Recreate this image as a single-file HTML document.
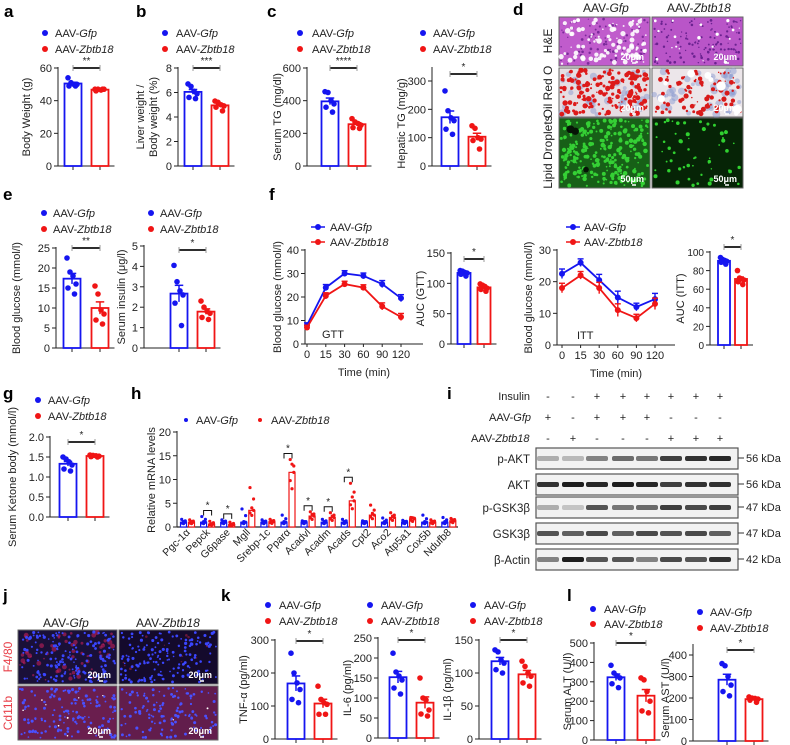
<!DOCTYPE html>
<html><head><meta charset="utf-8"><style>
html,body{margin:0;padding:0;background:#fff;}
svg{display:block;font-family:"Liberation Sans",sans-serif;}
</style></head><body>
<svg id="fig" width="790" height="745" viewBox="0 0 790 745"></svg>
<script>
// ---------- DATA ----------
const groups=['AAV-Gfp','AAV-Zbtb18'];
const bwGfp=[54,51,50,50,49,49], bwZb=[47,47,46.5,47,46,47];
const lwGfp=[6.7,6.5,6.1,5.9,5.6,5.5], lwZb=[5.3,5.2,5.0,4.9,4.8,4.5];
const stgGfp=[455,450,400,380,360,330], stgZb=[290,270,260,250,235,230];
const htgGfp=[265,195,170,160,130,112], htgZb=[142,133,100,95,90,60];
const bgGfp=[22.5,19,18,16,15,13.5], bgZb=[15.5,13.5,9.5,8.5,7,6];
const insGfp=[4.05,3.25,2.8,2.6,2.2,1.1], insZb=[2.3,2.0,1.8,1.7,1.5,1.4];
const aucGttGfp=[121,120,118,117,115,112], aucGttZb=[99,97,95,92,90,87];
const aucIttGfp=[94,92,91,90,89,87], aucIttZb=[80,72,71,70,68,65];
const ketGfp=[1.5,1.45,1.38,1.3,1.2,1.15], ketZb=[1.55,1.54,1.53,1.52,1.51,1.5];
const tnfGfp=[260,200,170,150,120,110], tnfZb=[160,120,110,105,75,75];
const il6Gfp=[212,165,155,145,125,110], il6Zb=[150,100,95,70,60,55];
const il1Gfp=[135,132,120,115,105,100], il1Zb=[118,110,100,95,85,80];
const altGfp=[385,345,330,320,290,270], altZb=[320,310,250,200,150,140];
const astGfp=[360,350,300,260,230,210], astZb=[205,200,198,195,190,180];
const timeLabels=['0','15','30','60','90','120'];
const gttGfp=[8,24,30,29,25.5,19.5], gttZb=[7,20.5,25.5,24,16,11.5];
const gttErr=[1,1.3,1.2,1.2,1.5,1.5];
const ittGfp=[22.5,26,20.5,15,12,14.5], ittZb=[18,22,18,11,8.5,13];
const ittErr=[1.5,1.2,1.8,2,1.2,1.8];
const genes=['Pgc-1α','Pepck','G6pase','Mgll','Srebp-1c','Pparα','Acadvl','Acadm','Acads','Cpt2','Aco2','Atp5a1','Cox5b','Ndufb8'];
const mrnaGfp=[1,1,1,1,1,1,1,1,1,1,1,1,1,1];
const mrnaZb=[1,0.6,0.5,3.5,1.1,11.5,2.3,2.0,5.5,2.5,2.0,1.7,1.0,1.3];
const mrnaMax=[1.6,2.2,1.5,3.8,1.5,2.5,1.3,1.6,1.6,1.3,1.9,1.4,2.5,2.0];
const mrnaZbMax=[1.5,1.2,1.0,8.3,1.6,14.2,3.2,3.0,9.2,4.6,3.0,2.0,1.5,1.8];
const mrnaSig=[1,2,5,6,7,8];
const blotRows=['p-AKT','AKT','p-GSK3β','GSK3β','β-Actin'];
const blotKda=['56 kDa','56 kDa','47 kDa','47 kDa','42 kDa'];
const insulinSigns=['-','-','+','+','+','+','+','+'];
const gfpSigns=['+','-','+','+','+','-','-','-'];
const zbSigns=['-','+','-','-','-','+','+','+'];
const bandPAKT=[0.3,0.25,0.5,0.6,0.55,0.8,0.85,0.9];
const bandAKT=[0.85,0.95,0.9,0.95,0.9,0.8,0.85,0.85];
const bandPGSK=[0.3,0.2,0.7,0.55,0.6,0.8,0.75,0.8];
const bandGSK=[0.7,0.65,0.75,0.65,0.75,0.7,0.75,0.65];
const bandActin=[0.5,0.95,0.7,0.7,0.5,0.75,0.7,0.85];

// ---------- HELPERS ----------
const NS='http://www.w3.org/2000/svg';
const svg=document.getElementById('fig');
const BLUE='#1515f0', RED='#f01515';
function mk(tag,attrs,name,parent){
  const el=document.createElementNS(NS,tag);
  for(const k in attrs) el.setAttribute(k,attrs[k]);
  
  
  (parent||svg).appendChild(el);
  return el;
}
function txt(x,y,s,opts,name,parent){
  const t=mk('text',Object.assign({x:x,y:y,'font-size':11,fill:'#222'},opts||{}),name,parent);
  t.textContent=s; return t;
}
function legendText(x,y,base,ital,name,parent,fs){
  const t=mk('text',{x:x,y:y,'font-size':fs||11,fill:'#222'},name,parent);
  const a=document.createElementNS(NS,'tspan'); a.textContent=base; t.appendChild(a);
  const b=document.createElementNS(NS,'tspan'); b.setAttribute('font-style','italic'); b.textContent=ital; t.appendChild(b);
  return t;
}
function legend(dx,tx,y1,y2,line){
  const g=mk('g',{},'legend');
  if(line){
    mk('line',{x1:dx-7,x2:dx+7,y1:y1,y2:y1,stroke:BLUE,'stroke-width':1.5},'legend-line-gfp',g);
    mk('line',{x1:dx-7,x2:dx+7,y1:y2,y2:y2,stroke:RED,'stroke-width':1.5},'legend-line-zbtb18',g);
  }
  mk('circle',{cx:dx,cy:y1,r:3,fill:BLUE},'legend-marker-gfp',g);
  mk('circle',{cx:dx,cy:y2,r:3,fill:RED},'legend-marker-zbtb18',g);
  legendText(tx,y1+4,'AAV-','Gfp','legend-entry-gfp',g);
  legendText(tx,y2+4,'AAV-','Zbtb18','legend-entry-zbtb18',g);
}
function letter(x,y,s){ txt(x,y,s,{'font-size':17,'font-weight':'bold',fill:'#000'},'panel-label-'+s); }
function ylabel(x,y,s,parent){
  txt(x,y,s,{'text-anchor':'middle',transform:'rotate(-90 '+x+' '+y+')'},'y-axis-title',parent);
}
const mean=a=>a.reduce((s,v)=>s+v,0)/a.length;
const sem=a=>{const m=mean(a);return Math.sqrt(a.reduce((s,v)=>s+(v-m)*(v-m),0)/(a.length-1))/Math.sqrt(a.length);};
const jit=[-5,-2,1,4,-4,2.5];

function barChart(c,gfp,zb,id){
  const g=mk('g',{},id+'-chart');
  const y=v=>c.y0-(v/c.max)*(c.y0-c.yTop);
  const w=c.w||17;
  mk('line',{x1:c.ax,y1:c.y0,x2:c.ax,y2:(c.axTop||c.yTop)-1,stroke:'#222'},id+'-y-axis',g);
  c.ticks.forEach(t=>{
    mk('line',{x1:c.ax-4,x2:c.ax,y1:y(t),y2:y(t),stroke:'#222'},id+'-y-tick',g);
    txt(c.ax-6,y(t)+4,c.fmt?t.toFixed(1):String(t),{'text-anchor':'end','font-size':c.fs||11},id+'-y-tick-label',g);
  });
  const xEnd=c.bx[1]+w/2+6;
  mk('line',{x1:c.ax,x2:xEnd,y1:c.y0,y2:c.y0,stroke:'#222'},id+'-x-axis',g);
  [gfp,zb].forEach((arr,i)=>{
    const col=i?RED:BLUE, cx=c.bx[i], m=mean(arr), e=sem(arr);
    mk('line',{x1:cx,x2:cx,y1:c.y0,y2:c.y0+4,stroke:'#222'},id+'-x-tick',g);
    mk('rect',{x:cx-w/2,y:y(m),width:w,height:c.y0-y(m),fill:'#fff',stroke:col,'stroke-width':1.8},id+'-bar-'+(i?'zbtb18':'gfp'),g);
    mk('line',{x1:cx,x2:cx,y1:y(m-e),y2:y(m+e),stroke:col,'stroke-width':1.5},id+'-error-bar',g);
    mk('line',{x1:cx-w/4,x2:cx+w/4,y1:y(m+e),y2:y(m+e),stroke:col,'stroke-width':1.5},id+'-error-cap',g);
    arr.forEach((v,k)=>mk('circle',{cx:cx+jit[k]*w/17,cy:y(v),r:2.8,fill:col},id+'-point',g));
  });
  const sy=c.sigY;
  mk('line',{x1:c.bx[0],x2:c.bx[1],y1:sy,y2:sy,stroke:'#111','stroke-width':1.8},id+'-significance-bar',g);
  [c.bx[0],c.bx[1]].forEach(x=>mk('line',{x1:x,x2:x,y1:sy-3,y2:sy+3,stroke:'#999'},id+'-significance-cap',g));
  txt((c.bx[0]+c.bx[1])/2,sy-4,c.star||'*',{'text-anchor':'middle','font-size':10},id+'-significance-star',g);
  if(c.label2){ylabel(c.lx-6,(c.y0+c.yTop)/2,c.label,g);ylabel(c.lx+7,(c.y0+c.yTop)/2,c.label2,g);}
  else ylabel(c.lx,(c.y0+c.yTop)/2,c.label,g);
}

function lineChart(c,gfp,zb,err,id){
  const g=mk('g',{},id+'-chart');
  const y=v=>c.y0-(v/c.max)*(c.y0-c.yTop);
  const x=i=>c.x0+i*c.dx;
  mk('line',{x1:c.ax,y1:c.y0,x2:c.ax,y2:c.yTop-1,stroke:'#222'},id+'-y-axis',g);
  c.ticks.forEach(t=>{
    mk('line',{x1:c.ax-4,x2:c.ax,y1:y(t),y2:y(t),stroke:'#222'},id+'-y-tick',g);
    txt(c.ax-6,y(t)+4,String(t),{'text-anchor':'end'},id+'-y-tick-label',g);
  });
  mk('line',{x1:c.ax,x2:c.xEnd,y1:c.y0,y2:c.y0,stroke:'#222'},id+'-x-axis',g);
  timeLabels.forEach((l,i)=>{
    mk('line',{x1:x(i),x2:x(i),y1:c.y0,y2:c.y0+3,stroke:'#222'},id+'-x-tick',g);
    txt(x(i),c.y0+14,l,{'text-anchor':'middle'},id+'-x-tick-label',g);
  });
  [gfp,zb].forEach((arr,s)=>{
    const col=s?RED:BLUE;
    mk('polyline',{points:arr.map((v,i)=>x(i)+','+y(v)).join(' '),fill:'none',stroke:col,'stroke-width':1.8},id+'-line-'+(s?'zbtb18':'gfp'),g);
    arr.forEach((v,i)=>{
      mk('line',{x1:x(i),x2:x(i),y1:y(v-err[i]),y2:y(v+err[i]),stroke:col,'stroke-width':1.4},id+'-error-bar',g);
      mk('line',{x1:x(i)-3,x2:x(i)+3,y1:y(v+err[i]),y2:y(v+err[i]),stroke:col,'stroke-width':1.4},id+'-error-cap',g);
      mk('circle',{cx:x(i),cy:y(v),r:3,fill:col},id+'-point',g);
    });
  });
  txt(c.x0+15,c.y0-6,c.tag,{'font-size':11},id+'-test-label',g);
  txt((c.ax+c.xEnd)/2,c.y0+32,'Time (min)',{'text-anchor':'middle'},id+'-x-axis-title',g);
  ylabel(c.lx,(c.y0+c.yTop)/2,'Blood glucose (mmol/l)',g);
}

// deterministic pseudo texture generator (for micrograph imitation only)
let seed=7;
function rnd(){seed=(seed*16807)%2147483647;return seed/2147483647;}
function micro(x,y,w,h,bg,layers,name,scale){
  const g=mk('g',{},name);
  mk('rect',{x:x,y:y,width:w,height:h,fill:bg,stroke:'#666','stroke-width':1},name+'-background',g);
  layers.forEach(L=>{
    for(let i=0;i<L.n;i++){
      mk('circle',{cx:x+2+rnd()*(w-4),cy:y+2+rnd()*(h-4),r:L.r0+rnd()*L.r1,fill:L.c,opacity:L.o||1},name+'-texture',g);
    }
  });
  txt(x+w-6,y+h-6,scale,{'text-anchor':'end','font-size':9,'font-weight':'bold',fill:'#fff'},name+'-scale-bar-label',g);
  mk('line',{x1:x+w-18,x2:x+w-14,y1:y+h-3,y2:y+h-3,stroke:'#fff','stroke-width':1.5},name+'-scale-bar',g);
}

// ---------- PANELS ----------
letter(4,17,'a'); letter(136,17,'b'); letter(267,17,'c'); letter(513,15,'d');
letter(3,200,'e'); letter(269,200,'f'); letter(3,399,'g'); letter(131,399,'h'); letter(447,399,'i');
letter(3,601,'j'); letter(221,601,'k'); letter(567,601,'l');

legend(45,55,33,49); legend(165,176,33,49); legend(300,312,33,49); legend(423,433,33,49);
barChart({ax:58,y0:166,yTop:68,max:60,ticks:[0,20,40,60],bx:[73,100],label:'Body Weight (g)',lx:30,sigY:68,star:'**'},bwGfp,bwZb,'body-weight');
barChart({ax:178,y0:166,yTop:68,max:8,ticks:[0,2,4,6,8],bx:[193,220],label:'Liver weight /',label2:'Body weight (%)',lx:150,sigY:68,star:'***'},lwGfp,lwZb,'liver-ratio');
barChart({ax:307,y0:166,yTop:68,max:600,ticks:[0,200,400,600],bx:[330,357],label:'Serum TG (mg/dl)',lx:281,sigY:68,star:'****'},stgGfp,stgZb,'serum-tg');
barChart({ax:432,y0:166,yTop:81,axTop:68,max:300,ticks:[0,100,200,300],bx:[450,477],label:'Hepatic TG (mg/g)',lx:405,sigY:74,star:'*'},htgGfp,htgZb,'hepatic-tg');

// d micrographs
legendText(583,12,'AAV-','Gfp','d-header-gfp',null,12);
legendText(667,12,'AAV-','Zbtb18','d-header-zbtb18',null,12);
txt(552,41,'H&E',{'text-anchor':'middle','font-size':12,transform:'rotate(-90 552 41)'},'he-row-label');
txt(552,92,'Oil Red O',{'text-anchor':'middle','font-size':12,transform:'rotate(-90 552 92)'},'oil-red-row-label');
txt(552,152,'Lipid Droplets',{'text-anchor':'middle','font-size':12,transform:'rotate(-90 552 152)'},'lipid-row-label');
micro(559,17,91,49,'#c05ccc',[{n:90,c:'#7a2a9a',r0:0.6,r1:0.8},{n:90,c:'#fff',r0:0.7,r1:2.2,o:0.9}],'he-gfp','20μm');
micro(652,17,91,49,'#b955c8',[{n:120,c:'#6a2290',r0:0.6,r1:0.8},{n:18,c:'#fff',r0:0.6,r1:1.2}],'he-zbtb18','20μm');
micro(559,68,91,49,'#e6dde2',[{n:40,c:'#8a9ad0',r0:1.5,r1:2.5,o:0.5},{n:170,c:'#dd1a1a',r0:0.7,r1:2}],'oilred-gfp','20μm');
micro(652,68,91,49,'#ece6ea',[{n:50,c:'#8a9ad0',r0:1.5,r1:2.5,o:0.5},{n:90,c:'#d81a1a',r0:0.7,r1:1.9},{n:8,c:'#fff',r0:2,r1:3}],'oilred-zbtb18','20μm');
micro(559,118,91,70,'#176017',[{n:260,c:'#35d035',r0:0.7,r1:1.6},{n:3,c:'#061406',r0:2,r1:2}],'lipid-gfp','50μm');
micro(652,118,91,70,'#062406',[{n:55,c:'#30d030',r0:0.7,r1:1.4}],'lipid-zbtb18','50μm');

// e
legend(44,53,213,229); legend(151,160,213,229);
barChart({ax:56,y0:348,yTop:248,max:25,ticks:[0,5,10,15,20,25],bx:[72,100],label:'Blood glucose (mmol/l)',lx:20,sigY:248,star:'**'},bgGfp,bgZb,'blood-glucose');
barChart({ax:144,y0:348,yTop:246,max:5,ticks:[0,1,2,3,4,5],bx:[179,206],label:'Serum insulin (μg/l)',lx:125,sigY:250,star:'*'},insGfp,insZb,'serum-insulin');

// f
legend(318,330,227,242,true); legend(573,584,227,242,true);
lineChart({ax:305,y0:344,yTop:250,max:40,ticks:[0,10,20,30,40],x0:307,dx:18.8,xEnd:423,lx:281,tag:'GTT'},gttGfp,gttZb,gttErr,'gtt');
lineChart({ax:557,y0:345,yTop:250,max:30,ticks:[0,10,20,30],x0:562,dx:18.6,xEnd:675,lx:532,tag:'ITT'},ittGfp,ittZb,ittErr,'itt');
barChart({ax:451,y0:344,yTop:253,max:150,ticks:[0,50,100,150],bx:[464,484],w:13,label:'AUC (GTT)',lx:424,sigY:259,star:'*'},aucGttGfp,aucGttZb,'auc-gtt');
barChart({ax:710,y0:345,yTop:252,max:100,ticks:[0,20,40,60,80,100],bx:[724,741],w:12,fs:10,label:'AUC (ITT)',lx:684,sigY:247,star:'*'},aucIttGfp,aucIttZb,'auc-itt');

// g
legend(38,48,400,416);
barChart({ax:50,y0:517,yTop:437,max:2,ticks:[0,0.5,1,1.5,2],fmt:true,bx:[68,95],label:'Serum Ketone body (mmol/l)',lx:16,sigY:442,star:'*'},ketGfp,ketZb,'ketone');

// h
(function(){
  const g=mk('g',{},'mrna-chart');
  const ax=177,y0=527,yTop=432,max=20;
  const y=v=>y0-(v/max)*(y0-yTop);
  const cx=i=>187.5+i*20.1;
  mk('circle',{cx:186,cy:420,r:2,fill:BLUE},'legend-marker-gfp',g);
  legendText(196,424,'AAV-','Gfp','legend-entry-gfp',g);
  mk('circle',{cx:260,cy:420,r:2,fill:RED},'legend-marker-zbtb18',g);
  legendText(271,424,'AAV-','Zbtb18','legend-entry-zbtb18',g);
  mk('line',{x1:ax,x2:ax,y1:y0,y2:yTop-1,stroke:'#222'},'mrna-y-axis',g);
  [0,5,10,15,20].forEach(t=>{
    mk('line',{x1:ax-4,x2:ax,y1:y(t),y2:y(t),stroke:'#222'},'mrna-y-tick',g);
    txt(ax-6,y(t)+4,String(t),{'text-anchor':'end'},'mrna-y-tick-label',g);
  });
  mk('line',{x1:ax,x2:458,y1:y0,y2:y0,stroke:'#222','stroke-width':1.2},'mrna-x-axis',g);
  ylabel(155,480,'Relative mRNA levels',g);
  genes.forEach((gn,i)=>{
    const c=cx(i);
    [[mrnaGfp[i],mrnaMax[i],BLUE,-4],[mrnaZb[i],mrnaZbMax[i],RED,4]].forEach(([v,mx,col,o])=>{
      mk('rect',{x:c+o-3,y:y(v),width:6,height:y0-y(v),fill:'#fff',stroke:col,'stroke-width':1.2},'mrna-bar-'+gn,g);
      const pts=[mx,v*1.15,v,v*0.85,v*0.7,(mx+v)/2];
      pts.forEach((p,k)=>mk('circle',{cx:c+o+(k%3-1)*1.8,cy:y(p),r:1.6,fill:col},'mrna-point',g));
    });
    txt(c+3,533,gn,{'text-anchor':'end','font-size':10.5,transform:'rotate(-45 '+(c+3)+' 533)'},'mrna-x-tick-label',g);
  });
  mrnaSig.forEach(i=>{
    const c=cx(i), top=y(Math.max(mrnaMax[i],mrnaZbMax[i]))-6;
    mk('polyline',{points:(c-4)+','+(top+5)+' '+(c-4)+','+top+' '+(c+4)+','+top+' '+(c+4)+','+(top+5),fill:'none',stroke:'#111'},'mrna-significance-bracket',g);
    txt(c,top-2,'*',{'text-anchor':'middle','font-size':10},'mrna-significance-star',g);
  });
})();

// i western blot
(function(){
  const g=mk('g',{},'western-blot');
  const lanes=[548,573,597,623,647,671,696,720];
  txt(530,400,'Insulin',{'text-anchor':'end'},'insulin-row-label',g);
  legendText(489,421,'AAV-','Gfp','gfp-row-label',g);
  legendText(471,442,'AAV-','Zbtb18','zbtb18-row-label',g);
  [[insulinSigns,400],[gfpSigns,421],[zbSigns,442]].forEach(([arr,yy])=>arr.forEach((s,i)=>txt(lanes[i],yy,s,{'text-anchor':'middle'},'treatment-sign',g)));
  const bands=[bandPAKT,bandAKT,bandPGSK,bandGSK,bandActin];
  const tops=[448,474,497,523,549];
  blotRows.forEach((r,k)=>{
    const t=tops[k];
    mk('rect',{x:536,y:t,width:202,height:21,fill:'#f2f2f2',stroke:'#555','stroke-width':1.2},'blot-'+r,g);
    bands[k].forEach((v,i)=>mk('rect',{x:lanes[i]-11,y:t+8,width:22,height:5,rx:2,fill:'#111',opacity:v},'band',g));
    txt(530,t+15,r,{'text-anchor':'end','font-size':11.5},'blot-row-label',g);
    mk('line',{x1:738,x2:744,y1:t+10,y2:t+10,stroke:'#333'},'kda-tick',g);
    txt(746,t+14,blotKda[k],{'font-size':11},'kda-label',g);
  });
})();

// j immunofluorescence
legendText(43,627,'AAV-','Gfp','j-header-gfp',null,12);
legendText(136,627,'AAV-','Zbtb18','j-header-zbtb18',null,12);
txt(12,657,'F4/80',{'text-anchor':'middle','font-size':12,fill:'#e8404a',transform:'rotate(-90 12 657)'},'f480-row-label');
txt(12,713,'Cd11b',{'text-anchor':'middle','font-size':12,fill:'#e8404a',transform:'rotate(-90 12 713)'},'cd11b-row-label');
micro(18,630,99,54,'#1a1038',[{n:60,c:'#c0205a',r0:0.8,r1:1.8,o:0.6},{n:160,c:'#3a46ff',r0:0.8,r1:0.8}],'f480-gfp','20μm');
micro(119,630,99,54,'#140a2c',[{n:15,c:'#a02040',r0:0.6,r1:0.8,o:0.6},{n:160,c:'#3a46ff',r0:0.8,r1:0.8}],'f480-zbtb18','20μm');
micro(18,686,99,54,'#6a1e4e',[{n:130,c:'#4a50ff',r0:0.8,r1:0.8},{n:8,c:'#fff',r0:0.6,r1:0.4}],'cd11b-gfp','20μm');
micro(119,686,99,54,'#621d4c',[{n:120,c:'#4a50ff',r0:0.8,r1:0.8},{n:2,c:'#fff',r0:0.6,r1:0.4}],'cd11b-zbtb18','20μm');

// k
legend(268,279,605,621); legend(370,381,605,621); legend(473,484,605,621);
barChart({ax:275,y0:739,yTop:640,max:300,ticks:[0,100,200,300],bx:[296,323],label:'TNF-α (pg/ml)',lx:247,sigY:641,star:'*'},tnfGfp,tnfZb,'tnf');
barChart({ax:378,y0:738,yTop:638,max:250,ticks:[0,50,100,150,200,250],bx:[398,425],label:'IL-6 (pg/ml)',lx:351,sigY:640,star:'*'},il6Gfp,il6Zb,'il6');
barChart({ax:479,y0:739,yTop:640,max:150,ticks:[0,50,100,150],bx:[500,527],label:'IL-1β (pg/ml)',lx:451,sigY:640,star:'*'},il1Gfp,il1Zb,'il1b');

// l
legend(593,604,609,624); legend(700,710,612,628);
barChart({ax:594,y0:740,yTop:643,max:500,ticks:[0,100,200,300,400,500],bx:[616,646],label:'Serum ALT (U/l)',lx:571,sigY:643,star:'*'},altGfp,altZb,'alt');
barChart({ax:693,y0:741,yTop:655,axTop:645,max:400,ticks:[0,100,200,300,400],bx:[727,754],label:'Serum AST (U/l)',lx:669,sigY:650,star:'*'},astGfp,astZb,'ast');
</script>
</body></html>
